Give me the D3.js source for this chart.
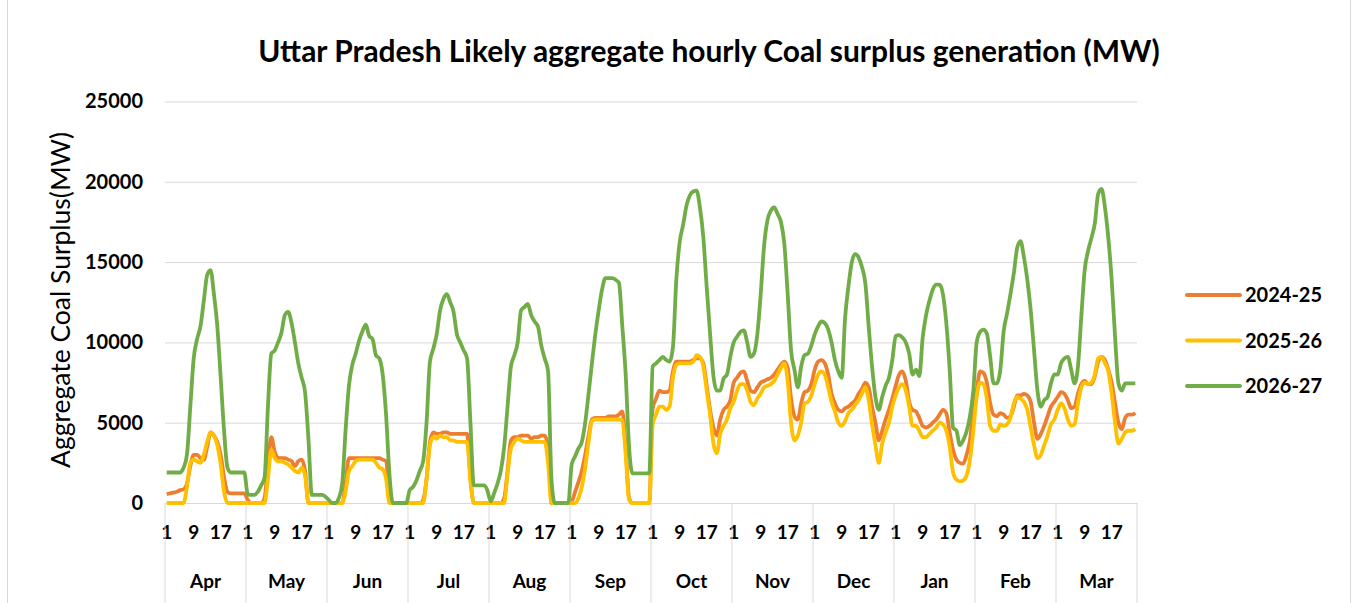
<!DOCTYPE html>
<html>
<head>
<meta charset="utf-8">
<script src="https://cdn.jsdelivr.net/npm/d3@7"></script>
<style>
  body { margin: 0; background: #fff; }
  svg { display: block; font-family: Lato, "Liberation Sans", sans-serif; }
</style>
</head>
<body>
<svg id="chart" width="1356" height="603"></svg>
<script>
//chart data: 12 months x 24 hours for each year
var months = ["Apr", "May", "Jun", "Jul", "Aug", "Sep", "Oct", "Nov", "Dec", "Jan", "Feb", "Mar"];
var hourTicks = [1, 9, 17];
var yTicks = [0, 5000, 10000, 15000, 20000, 25000];
var seriesNames = ["2024-25", "2025-26", "2026-27"];

var fy2024 = [
  [550, 600, 650, 700, 800, 850, 1200, 2300, 3000, 3000, 2800, 2700, 3500, 4400, 4200, 3800, 3000, 1600, 700, 600, 600, 600, 600, 600],
  [200, 0, 0, 0, 0, 300, 2500, 4100, 3200, 2800, 2800, 2800, 2700, 2600, 2300, 2600, 2700, 2000, 0, 0, 0, 0, 0, 0],
  [0, 0, 0, 0, 0, 1200, 2800, 2800, 2800, 2800, 2800, 2800, 2800, 2800, 2800, 2800, 2700, 2600, 300, 0, 0, 0, 0, 0],
  [0, 0, 0, 0, 200, 1500, 3800, 4400, 4300, 4300, 4400, 4400, 4300, 4300, 4300, 4300, 4300, 4300, 1500, 0, 0, 0, 0, 0],
  [0, 0, 0, 0, 300, 2000, 3900, 4100, 4100, 4200, 4200, 4200, 4000, 4100, 4100, 4200, 4200, 3500, 0, 0, 0, 0, 0, 0],
  [100, 700, 1300, 2000, 3000, 4200, 5200, 5300, 5300, 5300, 5300, 5400, 5400, 5400, 5500, 5700, 3500, 300, 0, 0, 0, 0, 0, 0],
  [5900, 6500, 7000, 6900, 6900, 7000, 8200, 8800, 8800, 8800, 8800, 8800, 8900, 9000, 9000, 8700, 7300, 5800, 4700, 4200, 5200, 5800, 6000, 6400],
  [7500, 7800, 8100, 8200, 7600, 7000, 6900, 7200, 7500, 7600, 7700, 7800, 8000, 8300, 8600, 8800, 8400, 6500, 5400, 5200, 6200, 6900, 7000, 7400],
  [8300, 8800, 8900, 8700, 8000, 6800, 6200, 5800, 5700, 5900, 6000, 6200, 6400, 6800, 7100, 7500, 7200, 6000, 5000, 3900, 4500, 5200, 5800, 6500],
  [7300, 8000, 8200, 7600, 6300, 5800, 5700, 5300, 4800, 4700, 4800, 5000, 5200, 5500, 5800, 5600, 4400, 3300, 2700, 2500, 2450, 3000, 3900, 5800],
  [7000, 8200, 8100, 7500, 6200, 5500, 5400, 5600, 5500, 5300, 5400, 6000, 6700, 6700, 6800, 6700, 6300, 5000, 4000, 4300, 4800, 5400, 6000, 6300],
  [6600, 6900, 6800, 6400, 5900, 6000, 6800, 7400, 7600, 7400, 7400, 7900, 8800, 9100, 8900, 8300, 7500, 6200, 5000, 4600, 5300, 5500, 5500, 5600]
];

var fy2025 = [
  [0, 0, 0, 0, 0, 0, 1000, 2500, 2700, 2600, 2500, 3000, 3800, 4400, 4200, 3600, 2400, 700, 0, 0, 0, 0, 0, 0],
  [0, 0, 0, 0, 0, 0, 1500, 3300, 2800, 2600, 2600, 2500, 2400, 2200, 2000, 1900, 2200, 1700, 0, 0, 0, 0, 0, 0],
  [0, 0, 0, 0, 0, 700, 2000, 2300, 2600, 2700, 2700, 2700, 2700, 2700, 2500, 2200, 2100, 1500, 0, 0, 0, 0, 0, 0],
  [0, 0, 0, 0, 0, 1500, 3600, 4100, 4000, 4200, 4100, 4100, 3900, 3900, 3800, 3800, 3800, 3800, 1400, 0, 0, 0, 0, 0],
  [0, 0, 0, 0, 0, 1800, 3400, 3800, 4000, 3900, 3800, 3800, 3800, 3800, 3800, 3800, 3800, 2500, 0, 0, 0, 0, 0, 0],
  [0, 0, 300, 1000, 2200, 3800, 5100, 5200, 5200, 5200, 5200, 5200, 5200, 5200, 5200, 5150, 3000, 200, 0, 0, 0, 0, 0, 0],
  [4900, 5500, 6000, 6000, 5800, 6000, 7800, 8600, 8700, 8700, 8700, 8700, 8800, 9200, 9100, 8500, 7000, 5500, 3700, 3100, 4300, 4800, 5200, 5900],
  [6300, 7000, 7400, 7400, 7000, 6300, 6100, 6500, 6800, 7200, 7300, 7400, 7600, 8000, 8400, 8700, 7600, 5000, 3900, 4200, 5000, 6200, 6300, 6700],
  [7400, 8000, 8200, 8000, 7200, 6300, 5700, 5000, 4800, 5100, 5600, 5800, 6100, 6400, 6800, 7200, 6400, 4900, 3600, 2500, 3700, 4400, 5000, 6000],
  [6700, 7200, 7400, 7000, 6000, 4800, 4800, 4500, 4100, 4100, 4300, 4500, 4700, 5000, 4900, 4500, 3500, 1900, 1450, 1350, 1400, 1700, 2700, 4500],
  [6600, 7500, 7400, 6500, 4800, 4500, 4500, 4900, 4800, 4900, 5300, 6200, 6600, 6500, 6300, 5800, 4700, 3600, 2800, 3000, 3600, 4200, 4900, 5200],
  [5800, 6200, 5900, 5200, 4800, 4900, 6200, 7200, 7500, 7400, 7500, 8000, 9000, 9100, 8700, 8200, 6800, 5000, 3700, 4000, 4400, 4500, 4500, 4600]
];

var fy2026 = [
  [1900, 1900, 1900, 1900, 1900, 2200, 3000, 6000, 9000, 10200, 11000, 12600, 14200, 14500, 13000, 11000, 7800, 4500, 2200, 1900, 1900, 1900, 1900, 1900],
  [550, 500, 500, 700, 1100, 1600, 6000, 9300, 9500, 10000, 10600, 11700, 11900, 11200, 10000, 8700, 7800, 6900, 4000, 500, 500, 500, 500, 400],
  [200, 0, 0, 300, 1200, 4500, 7300, 8600, 9300, 10100, 10700, 11100, 10400, 10200, 9200, 9000, 8000, 5500, 1800, 0, 0, 0, 0, 0],
  [800, 1000, 1400, 2000, 2600, 5000, 8800, 9600, 10500, 12000, 12700, 13000, 12500, 11900, 10500, 10000, 9500, 9000, 5000, 1100, 1100, 1100, 1100, 800],
  [100, 600, 1200, 2000, 3500, 6000, 8500, 9200, 10000, 12000, 12200, 12400, 11700, 11300, 11000, 9800, 9000, 8200, 1500, 0, 0, 0, 0, 0],
  [2400, 2900, 3400, 3800, 5000, 6800, 8700, 10500, 12000, 13300, 14000, 14000, 14000, 13900, 13700, 11000, 8000, 3500, 1850, 1850, 1850, 1850, 1850, 1850],
  [8500, 8700, 8900, 9100, 8900, 8800, 9700, 13900, 16250, 17300, 18500, 19150, 19400, 19450, 18400, 16550, 13450, 10550, 7900, 7000, 7000, 7750, 8000, 9100],
  [10000, 10350, 10650, 10750, 10000, 9100, 9300, 10500, 13000, 16000, 17600, 18200, 18400, 18000, 17500, 16150, 13000, 9500, 8300, 7200, 8500, 9200, 9300, 9800],
  [10500, 11000, 11300, 11200, 10800, 10000, 8900, 8200, 7800, 11500, 13500, 15000, 15500, 15300, 14700, 13700, 11000, 8500, 6600, 5800, 6600, 7300, 7800, 8900],
  [10400, 10450, 10300, 10000, 9300, 8000, 8300, 7900, 10300, 11700, 12600, 13300, 13600, 13600, 13000, 11200, 8300, 4700, 4500, 3600, 3900, 4450, 5400, 7000],
  [10000, 10650, 10800, 10550, 9100, 7450, 7450, 8300, 10700, 11800, 13000, 14300, 15900, 16300, 15300, 13900, 12000, 9500, 7000, 6000, 6400, 6600, 7450, 8000],
  [8000, 8700, 9000, 9100, 8300, 7450, 8500, 11600, 14500, 15700, 16500, 17400, 19250, 19560, 18400, 16500, 13900, 10350, 7450, 7000, 7450, 7450, 7450, 7450]
];

//colours follow the office palette
var colors = ["#ED7D31", "#FFC000", "#70AD47"];

function drawChart() {
  var svg = d3.select("#chart");
  var left = 165, right = 1137, top = 101.5, bottom = 503;

  //one band per hour of the year
  var allValues = [fy2024, fy2025, fy2026].map(function(s) { return d3.merge(s); });
  var n = allValues[0].length;

  var x = d3.scaleBand().domain(d3.range(n)).range([left, right]).padding(0),
      y = d3.scaleLinear().domain([0, 25000]).range([bottom, top]);
  var bw = x.bandwidth();

  //horizontal gridlines + y labels
  var yAxis = svg.append("g")
      .attr("transform", "translate(" + left + ",0)")
      .call(d3.axisLeft(y).tickValues(yTicks).tickSize(-(right - left)).tickPadding(22).tickFormat(d3.format("d")));
  yAxis.select(".domain").remove();
  yAxis.selectAll("line").attr("stroke", "#d9d9d9").attr("stroke-width", 1);
  yAxis.selectAll("text").attr("font-size", 20).attr("font-weight", "bold").attr("fill", "#000")
      .attr("font-family", "Lato, sans-serif");

  //category axis: hour labels and month groups
  var xAxis = svg.append("g")
      .attr("transform", "translate(0," + bottom + ")")
      .call(d3.axisBottom(x)
        .tickValues(d3.range(n).filter(function(i) { return hourTicks.indexOf(i % 24 + 1) >= 0; }))
        .tickSize(0).tickPadding(23)
        .tickFormat(function(i) { return i % 24 + 1; }));
  xAxis.select(".domain").attr("stroke", "#d9d9d9");
  xAxis.selectAll("text").attr("font-size", 19).attr("font-weight", "bold").attr("fill", "#000")
      .attr("font-family", "Lato, sans-serif");

  svg.append("g").selectAll("line")
      .data(d3.range(months.length + 1))
      .enter().append("line")
      .attr("x1", function(m) { return m < months.length ? x(m * 24) : right; })
      .attr("x2", function(m) { return m < months.length ? x(m * 24) : right; })
      .attr("y1", bottom).attr("y2", 610)
      .attr("stroke", "#d9d9d9");

  svg.append("g").selectAll("text")
      .data(months)
      .enter().append("text")
      .attr("x", function(d, m) { return x(m * 24) + bw * 12; })
      .attr("y", 581)
      .attr("dy", "0.35em")
      .attr("text-anchor", "middle")
      .attr("font-size", 19).attr("font-weight", "bold")
      .text(function(d) { return d; });

  //lines, orange first so green ends on top
  var line = d3.line()
      .x(function(d, i) { return x(i) + bw / 2; })
      .y(function(d) { return y(d); })
      .curve(d3.curveMonotoneX);

  svg.append("g").selectAll("path")
      .data(allValues)
      .enter().append("path")
      .attr("d", line)
      .attr("fill", "none")
      .attr("stroke", function(d, i) { return colors[i]; })
      .attr("stroke-width", 3.8)
      .attr("stroke-linejoin", "round");

  //legend
  var legend = svg.append("g").selectAll("g")
      .data(seriesNames)
      .enter().append("g")
      .attr("transform", function(d, i) { return "translate(1187," + (295 + i * 45.5) + ")"; });
  legend.append("line")
      .attr("x1", 0).attr("x2", 53)
      .attr("stroke", function(d, i) { return colors[i]; })
      .attr("stroke-width", 4).attr("stroke-linecap", "round");
  legend.append("text")
      .attr("x", 58).attr("dy", "0.35em")
      .attr("font-size", 20).attr("font-weight", "bold")
      .text(function(d) { return d; });

  //title and axis name
  var title = svg.append("text")
      .attr("x", 709).attr("y", 52).attr("dy", "0.35em")
      .attr("text-anchor", "middle")
      .attr("font-size", 24).attr("font-weight", "bold")
      .text("Uttar Pradesh Likely aggregate hourly Coal surplus generation (MW)");
  fitWidth(title, 902);

  var yTitle = svg.append("text")
      .attr("transform", "translate(61,300) rotate(-90)")
      .attr("dy", "0.35em")
      .attr("text-anchor", "middle")
      .attr("font-size", 22)
      .text("Aggregate Coal Surplus(MW)");
  fitWidth(yTitle, 336);

  //chart frame
  svg.append("rect")
      .attr("x", 7.5).attr("y", -10).attr("width", 1343).attr("height", 630)
      .attr("fill", "none").attr("stroke", "#d9d9d9");
}

//scales font so the text spans the width seen in the original
function fitWidth(sel, w) {
  var len = sel.node().getComputedTextLength();
  var fs = parseFloat(sel.attr("font-size"));
  sel.attr("font-size", fs * w / len);
}

drawChart();
</script>
</body>
</html>
